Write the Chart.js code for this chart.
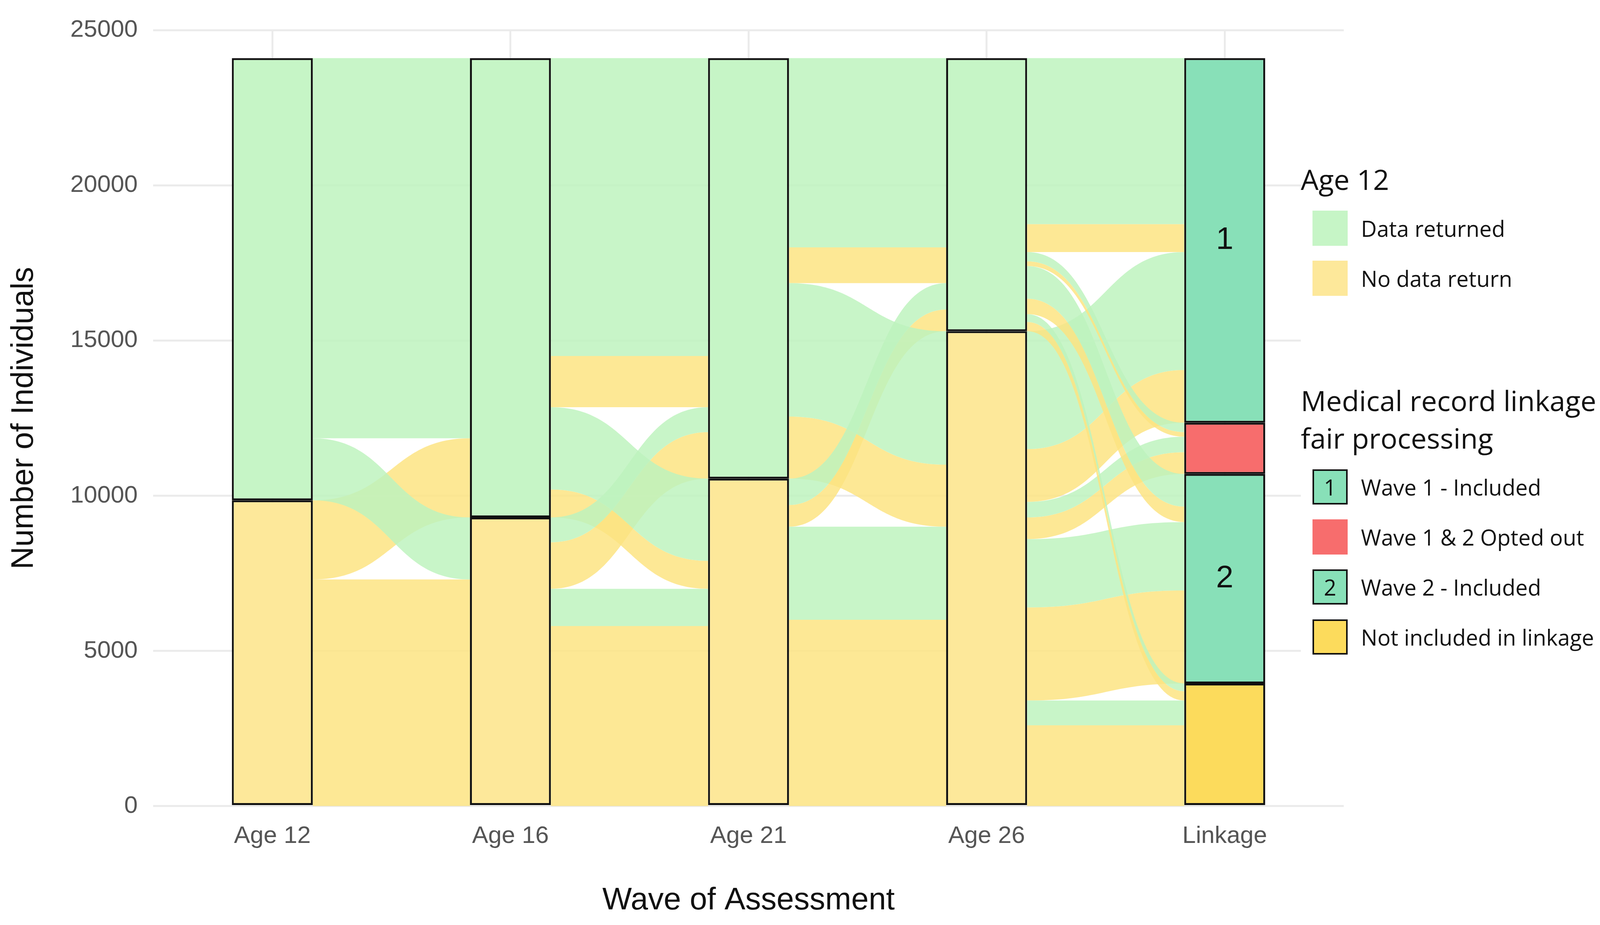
<!DOCTYPE html>
<html><head><meta charset="utf-8">
<script src="https://cdn.jsdelivr.net/npm/chart.js@4"></script>
<style>
body{margin:0;background:#fff;width:4137px;height:2367px;overflow:hidden;position:relative;font-family:"Liberation Sans",Arial,sans-serif}
#wrap{position:absolute;left:0;top:0;width:3440px;height:2367px}
#legend{position:absolute;left:3330px;top:410px;font-family:"Open Sans","Noto Sans",sans-serif;color:#111;background:#fff;white-space:nowrap;padding-right:10px}
.lt{font-size:72px;line-height:96px;margin-bottom:14px}
.it{display:flex;align-items:center;height:128px;font-size:56px}
.sw{width:90px;height:90px;margin:0 34px 0 30px;box-sizing:border-box;display:flex;align-items:center;justify-content:center;font-size:56px}
</style></head><body>
<div id="wrap"><canvas id="c"></canvas></div>
<div id="legend">
 <div class="lt">Age 12</div>
 <div class="it"><div class="sw" style="background:#c6f5c6"></div>Data returned</div>
 <div class="it"><div class="sw" style="background:#fde89a"></div>No data return</div>
 <div style="height:200px"></div>
 <div class="lt">Medical record linkage<br>fair processing</div>
 <div class="it"><div class="sw" style="background:#88e0b8;border:4px solid #111">1</div>Wave 1 - Included</div>
 <div class="it"><div class="sw" style="background:#f76d6d"></div>Wave 1 &amp; 2 Opted out</div>
 <div class="it"><div class="sw" style="background:#88e0b8;border:4px solid #111">2</div>Wave 2 - Included</div>
 <div class="it"><div class="sw" style="background:#fcdb5c;border:4px solid #111"></div>Not included in linkage</div>
</div>
<script>
const waves = ['Age 12', 'Age 16', 'Age 21', 'Age 26', 'Linkage'];
// strata sizes bottom-up per wave
const stratum0 = [9850, 9300, 10550, 15300, 3950];   // no data / not included
const stratum1 = [14250, 14800, 13550, 8800, 6750];  // data returned / wave 2 included
const stratum2 = [0, 0, 0, 0, 1650];                 // opted out
const stratum3 = [0, 0, 0, 0, 11750];                // wave 1 included
const linkLabels = ['', '2', '', '1'];
// flows: [age12 group (0 = no data, 1 = returned), from stratum, to stratum, count]
const flows12to16 = [[0,0,0,7300],[0,0,1,2550],[1,1,0,2000],[1,1,1,12250]];
const flows16to21 = [[0,0,0,5800],[0,0,1,1500],[0,1,0,900],[0,1,1,1650],
                     [1,0,0,1200],[1,0,1,800],[1,1,0,2650],[1,1,1,9600]];
const flows21to26 = [[0,0,0,6000],[0,0,1,700],[0,1,0,2000],[0,1,1,1150],
                     [1,0,0,3000],[1,0,1,850],[1,1,0,4300],[1,1,1,6100]];
const flows26toLink = [[0,0,0,2600],[0,0,1,3000],[0,0,2,700],[0,0,3,1700],
                       [1,0,0,800],[1,0,1,2200],[1,0,2,500],[1,0,3,3800],
                       [0,1,0,300],[0,1,1,500],[0,1,2,150],[0,1,3,900],
                       [1,1,0,250],[1,1,1,1050],[1,1,2,300],[1,1,3,5350]];
const allFlows = [flows12to16, flows16to21, flows21to26, flows26toLink];
const yTicks = [0, 5000, 10000, 15000, 20000, 25000];

const strata = [stratum0, stratum1, stratum2, stratum3];
const flowCol = ['rgba(253,228,130,0.85)', 'rgba(190,243,190,0.85)'];

const flowPlugin = {
  id: 'flows',
  beforeDatasetsDraw(chart) {
    const ctx = chart.ctx, y = chart.scales.y, meta = chart.getDatasetMeta(0);
    allFlows.forEach((fl, w) => {
      const base = k => { let b = 0; for (let j = 0; j < k; j++) b += strata[j][w]; return b; };
      const baseB = k => { let b = 0; for (let j = 0; j < k; j++) b += strata[j][w + 1]; return b; };
      const outOff = {}, inOff = {};
      const out = fl.map((f, i) => ({f, i})).sort((a, b) => a.f[1] - b.f[1] || a.f[2] - b.f[2] || a.f[0] - b.f[0]);
      const inc = fl.map((f, i) => ({f, i})).sort((a, b) => a.f[2] - b.f[2] || a.f[1] - b.f[1] || a.f[0] - b.f[0]);
      const pos = fl.map(() => ({}));
      out.forEach(({f, i}) => { const k = f[1]; outOff[k] = outOff[k] ?? base(k); pos[i].a = outOff[k]; outOff[k] += f[3]; });
      inc.forEach(({f, i}) => { const k = f[2]; inOff[k] = inOff[k] ?? baseB(k); pos[i].b = inOff[k]; inOff[k] += f[3]; });
      const ba = meta.data[w], bb = meta.data[w + 1];
      const xa = ba.x + ba.width / 2, xb = bb.x - bb.width / 2, xm = (xa + xb) / 2;
      fl.forEach((f, i) => {
        const a0 = y.getPixelForValue(pos[i].a), a1 = y.getPixelForValue(pos[i].a + f[3]);
        const b0 = y.getPixelForValue(pos[i].b), b1 = y.getPixelForValue(pos[i].b + f[3]);
        ctx.save();
        ctx.fillStyle = flowCol[f[0]];
        ctx.beginPath();
        ctx.moveTo(xa, a0);
        ctx.bezierCurveTo(xm, a0, xm, b0, xb, b0);
        ctx.lineTo(xb, b1);
        ctx.bezierCurveTo(xm, b1, xm, a1, xa, a1);
        ctx.closePath();
        ctx.fill();
        ctx.restore();
      });
    });
  },
  afterDatasetsDraw(chart) {
    const ctx = chart.ctx;
    ctx.save();
    ctx.fillStyle = '#111'; ctx.font = '80px "Liberation Sans", Arial';
    ctx.textAlign = 'center'; ctx.textBaseline = 'middle';
    chart.data.datasets.forEach((ds, d) => {
      const el = chart.getDatasetMeta(d).data[4];
      if (linkLabels[d]) ctx.fillText(linkLabels[d], el.x, (el.y + el.base) / 2);
    });
    ctx.restore();
  }
};

const yellow = '#fde89a', green = '#c6f5c6';
new Chart(document.getElementById('c'), {
  type: 'bar',
  data: {
    labels: waves,
    datasets: [
      {data: stratum0, backgroundColor: [yellow, yellow, yellow, yellow, '#fcdb5c']},
      {data: stratum1, backgroundColor: [green, green, green, green, '#88e0b8']},
      {data: stratum2, backgroundColor: '#f76d6d'},
      {data: stratum3, backgroundColor: '#88e0b8'}
    ].map(d => Object.assign(d, {borderColor: '#111', borderWidth: 5, borderSkipped: false,
      barPercentage: 0.34, categoryPercentage: 1}))
  },
  options: {
    responsive: true, maintainAspectRatio: false, animation: false,
    layout: {padding: {top: 20, bottom: 10, left: 10}},
    plugins: {legend: {display: false}, tooltip: {enabled: false}},
    scales: {
      x: {stacked: true, grid: {offset: false, color: '#ebebeb', lineWidth: 5, drawTicks: false},
          border: {display: false},
          ticks: {color: '#555', font: {size: 62, family: '"Liberation Sans", Arial'}, padding: 40},
          title: {display: true, text: 'Wave of Assessment', color: '#111', font: {size: 80, family: '"Liberation Sans", Arial'}, padding: {top: 40}}},
      y: {stacked: true, min: 0, max: 25000, afterBuildTicks: s => { s.ticks = yTicks.map(v => ({value: v})); },
          grid: {color: '#ebebeb', lineWidth: 5, drawTicks: false}, border: {display: false},
          ticks: {color: '#555', font: {size: 62, family: '"Liberation Sans", Arial'}, padding: 40, callback: v => String(v)},
          title: {display: true, text: 'Number of Individuals', color: '#111', font: {size: 80, family: '"Liberation Sans", Arial'}, padding: {bottom: 30}}}
    }
  },
  plugins: [flowPlugin]
});
</script>
</body></html>
